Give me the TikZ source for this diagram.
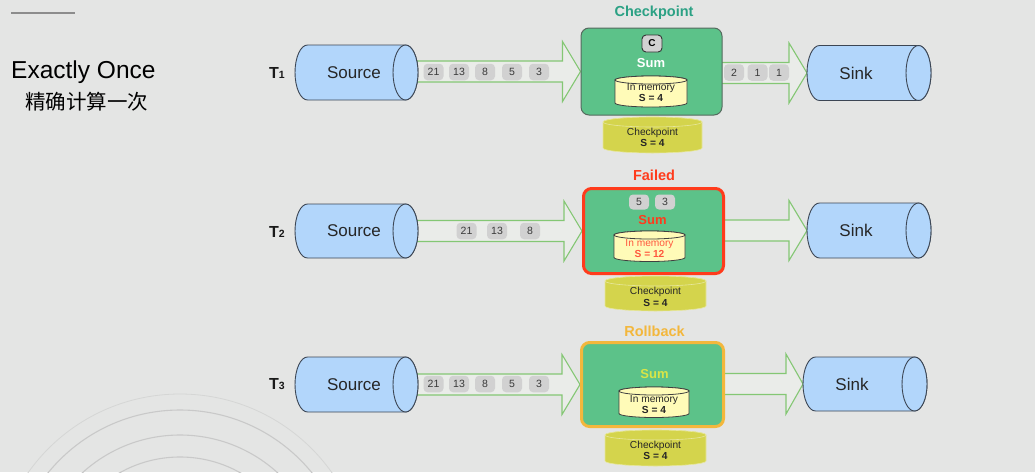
\documentclass[tikz,border=0pt]{standalone}
\usepackage{fontspec}
\setmainfont{Liberation Sans}
\newfontfamily\cjk{Noto Sans CJK SC}
\usetikzlibrary{calc}
\definecolor{bgc}{HTML}{E4E5E4}
\definecolor{cylblue}{HTML}{B2D6FB}
\definecolor{cylline}{HTML}{3C4654}
\definecolor{sumgreen}{HTML}{5CC289}
\definecolor{sumline}{HTML}{556A5E}
\definecolor{pillgray}{HTML}{D1D1D1}
\definecolor{pilltext}{HTML}{3A3A3A}
\definecolor{memyel}{HTML}{FFFBB8}
\definecolor{ckyel}{HTML}{D4D44C}
\definecolor{arrgreen}{HTML}{84C774}
\definecolor{arrfill}{HTML}{EAECE9}
\definecolor{ckteal}{HTML}{2BA184}
\definecolor{failred}{HTML}{FF3B1C}
\definecolor{rollorg}{HTML}{F3B73C}
\definecolor{sumyel}{HTML}{D8E547}
\definecolor{arcgray}{HTML}{C9C9C9}
\pgfdeclarelayer{back}
\pgfdeclarelayer{arrows}
\pgfsetlayers{back,arrows,main}
\tikzset{
  cylbody/.style={fill=cylblue, draw=cylline, line width=0.9},
  memcyl/.style={fill=memyel, draw=black!75, line width=0.8},
  ckcyl/.style={fill=ckyel, draw=ckyel!55!white, line width=0.6},
  holder/.style={inner sep=0, outer sep=0},
  cyltext/.style={font=\fontsize{17}{20}\selectfont, text=black!85, inner sep=0},
  pill/.style={fill=pillgray, rounded corners=4, minimum width=20, minimum height=16.5, inner sep=0, font=\fontsize{10.5}{12}\selectfont, text=pilltext},
  cbox/.style={fill=pillgray, draw=black!80, line width=0.9, rounded corners=4, minimum width=20, minimum height=17, inner sep=0, font=\bfseries\fontsize{10}{12}\selectfont},
  sumbox/.style={fill=sumgreen, rounded corners=8, inner sep=0},
  ttl/.style={font=\bfseries\fontsize{14.5}{16}\selectfont, inner sep=0},
  sumtxt/.style={font=\bfseries\fontsize{13}{15}\selectfont, inner sep=0},
  memtxt/.style={align=center, font=\fontsize{10.2}{11.5}\selectfont, inner sep=0, text=black!85},
  barrowst/.style={fill=arrfill, draw=arrgreen, line width=1.1, line join=miter},
  tlab/.style={font=\bfseries\fontsize{16}{18}\selectfont, inner sep=0, text=black!90}
}
% horizontal cylinder: x0, x1, yc, ry, rx
\newcommand\hcyl[5]{%
  \filldraw[cylbody] ({#1+#5},{#3-#4}) -- ({#2-#5},{#3-#4})
    arc[start angle=-90,end angle=90,x radius=#5,y radius=#4]
    -- ({#1+#5},{#3+#4})
    arc[start angle=90,end angle=270,x radius=#5,y radius=#4] -- cycle;
  \filldraw[cylbody] ({#2-#5},#3) ellipse[x radius=#5,y radius=#4];}
% vertical cylinder: cx, ytop, w, h, ry, style
\newcommand\vcyl[6]{%
  \filldraw[#6] ({#1-#3/2},{#2+#5}) -- ({#1-#3/2},{#2+#4-#5})
    arc[start angle=180,end angle=0,x radius=#3/2,y radius=#5]
    -- ({#1+#3/2},{#2+#5})
    arc[start angle=0,end angle=-180,x radius=#3/2,y radius=#5] -- cycle;
  \draw[#6] ({#1},{#2+#5}) ellipse[x radius=#3/2,y radius=#5];}
% block arrow from node #1 to node #2, head length #3
\newcommand\barrow[3]{%
  \path[barrowst] let \p1=(#1.east), \p2=(#2.west) in
    ({\x1-5pt},{\y2+10.5pt}) -- ({\x2-#3},{\y2+10.5pt}) -- ({\x2-#3},{\y2+30pt})
    -- (\x2,\y2) -- ({\x2-#3},{\y2-30pt}) -- ({\x2-#3},{\y2-10.5pt})
    -- ({\x1-5pt},{\y2-10.5pt}) -- cycle;}
\begin{document}
\begin{tikzpicture}[x=1pt,y=-1pt]
\begin{pgfonlayer}{back}
  \fill[bgc] (0,0) rectangle (1035,472);
  \begin{scope}
    \clip (0,0) rectangle (1035,472);
    \draw[arcgray!55!bgc, line width=0.8] (180,580) circle[radius=186];
    \draw[arcgray, line width=1.1] (180,580) circle[radius=170];
    \draw[arcgray, line width=1.1] (180,580) circle[radius=145];
    \draw[arcgray, line width=1.1] (180,580) circle[radius=123];
  \end{scope}
\end{pgfonlayer}
\useasboundingbox (0,0) rectangle (1035,472);

% heading
\draw[black!45, line width=1.8] (11,12.7) -- (75,12.7);
\node[anchor=west, inner sep=0, font=\fontsize{24.5}{28}\selectfont] (head) at (11,72) {Exactly Once};
\node[anchor=west, inner sep=0, font=\cjk\fontsize{20.5}{24}\selectfont] (headcn) at (25,102) {精确计算一次};

% anchor nodes for cylinders
\node[holder, minimum width=123, minimum height=55] (src1) at (356.5,72.5) {};
\node[holder, minimum width=123, minimum height=54] (src2) at (356.5,231) {};
\node[holder, minimum width=123, minimum height=55] (src3) at (356.5,384.5) {};
\node[holder, minimum width=124, minimum height=55] (snk1) at (869,73) {};
\node[holder, minimum width=124, minimum height=55] (snk2) at (869,230.5) {};
\node[holder, minimum width=124, minimum height=54] (snk3) at (865,384) {};

% sum boxes
\node[sumbox, draw=sumline, line width=1, minimum width=141, minimum height=87] (sum1) at (651.5,71.5) {};
\node[sumbox, draw=failred, line width=3, minimum width=140, minimum height=85] (sum2) at (653.5,231) {};
\node[sumbox, draw=rollorg, line width=3, minimum width=142, minimum height=84] (sum3) at (652.5,384.5) {};

% block arrows
\begin{pgfonlayer}{arrows}
  \barrow{src1}{sum1}{18pt}
  \barrow{sum1}{snk1}{18pt}
  \barrow{src2}{sum2}{18pt}
  \barrow{sum2}{snk2}{18pt}
  \barrow{src3}{sum3}{18pt}
  \barrow{sum3}{snk3}{17pt}
\end{pgfonlayer}

% cylinders
\hcyl{295}{418}{72.5}{27.5}{12.5}
\hcyl{295}{418}{231}{27}{12.5}
\hcyl{295}{418}{384.5}{27.5}{12.5}
\hcyl{807}{931}{73}{27.5}{12.5}
\hcyl{807}{931}{230.5}{27.5}{12.5}
\hcyl{803}{927}{384}{27}{12.5}

\node[cyltext] (src1t) at (354,72.5) {Source};
\node[cyltext] (src2t) at (354,231) {Source};
\node[cyltext] (src3t) at (354,384.5) {Source};
\node[cyltext] (snk1t) at (856,73) {Sink};
\node[cyltext] (snk2t) at (856,230.5) {Sink};
\node[cyltext] (snk3t) at (852,384) {Sink};

% T labels
\node[tlab] (t1) at (277,72.5) {T{\fontsize{10.5}{12}\selectfont 1}};
\node[tlab] (t2) at (277,231.5) {T{\fontsize{10.5}{12}\selectfont 2}};
\node[tlab] (t3) at (277,384.5) {T{\fontsize{10.5}{12}\selectfont 3}};

% titles
\node[ttl, text=ckteal] (ttl1) at (654,13) {Checkpoint};
\node[ttl, text=failred] (ttl2) at (654,175) {Failed};
\node[ttl, text=rollorg] (ttl3) at (654.5,331) {Rollback};

% pills row 1
\node[pill] (p11) at (433.5,72) {21};
\node[pill] (p12) at (459,72) {13};
\node[pill] (p13) at (485,72) {8};
\node[pill] (p14) at (512,72) {5};
\node[pill] (p15) at (539,72) {3};
\node[pill] (q11) at (734,72.5) {2};
\node[pill] (q12) at (757.5,72.5) {1};
\node[pill] (q13) at (779,72.5) {1};
% pills row 2
\node[pill] (p21) at (466.5,231) {21};
\node[pill] (p22) at (497,231) {13};
\node[pill] (p23) at (530,231) {8};
\node[pill, minimum height=15] (p24) at (639,202) {5};
\node[pill, minimum height=15] (p25) at (665,202) {3};
% pills row 3
\node[pill] (p31) at (433.5,384) {21};
\node[pill] (p32) at (459,384) {13};
\node[pill] (p33) at (485,384) {8};
\node[pill] (p34) at (512,384) {5};
\node[pill] (p35) at (539,384) {3};

% checkpoint marker
\node[cbox] (c1) at (652,43.5) {C};

% Sum labels
\node[sumtxt, text=white] (s1) at (651,63) {Sum};
\node[sumtxt, text=failred] (s2) at (652.5,220) {Sum};
\node[sumtxt, text=sumyel] (s3) at (654.5,374) {Sum};

% in-memory cylinders
\vcyl{651}{76}{72}{31}{4}{memcyl}
\vcyl{649.5}{231}{71}{30.5}{4}{memcyl}
\vcyl{654}{387}{70}{30.5}{4}{memcyl}
\node[memtxt] (m1) at (651,92.5) {In memory\\\textbf{S = 4}};
\node[memtxt, text=failred!85!white] (m2) at (649.5,248.5) {In memory\\\textbf{S = 12}};
\node[memtxt] (m3) at (654,404.5) {In memory\\\textbf{S = 4}};

% checkpoint cylinders
\vcyl{652.5}{117}{99}{36}{5}{ckcyl}
\vcyl{655.5}{276}{101}{35}{5}{ckcyl}
\vcyl{655.5}{430}{101}{36}{5}{ckcyl}
\node[memtxt] (k1) at (652.5,137.5) {Checkpoint\\\textbf{S = 4}};
\node[memtxt] (k2) at (655.5,297) {Checkpoint\\\textbf{S = 4}};
\node[memtxt] (k3) at (655.5,450.5) {Checkpoint\\\textbf{S = 4}};
\end{tikzpicture}
\end{document}
